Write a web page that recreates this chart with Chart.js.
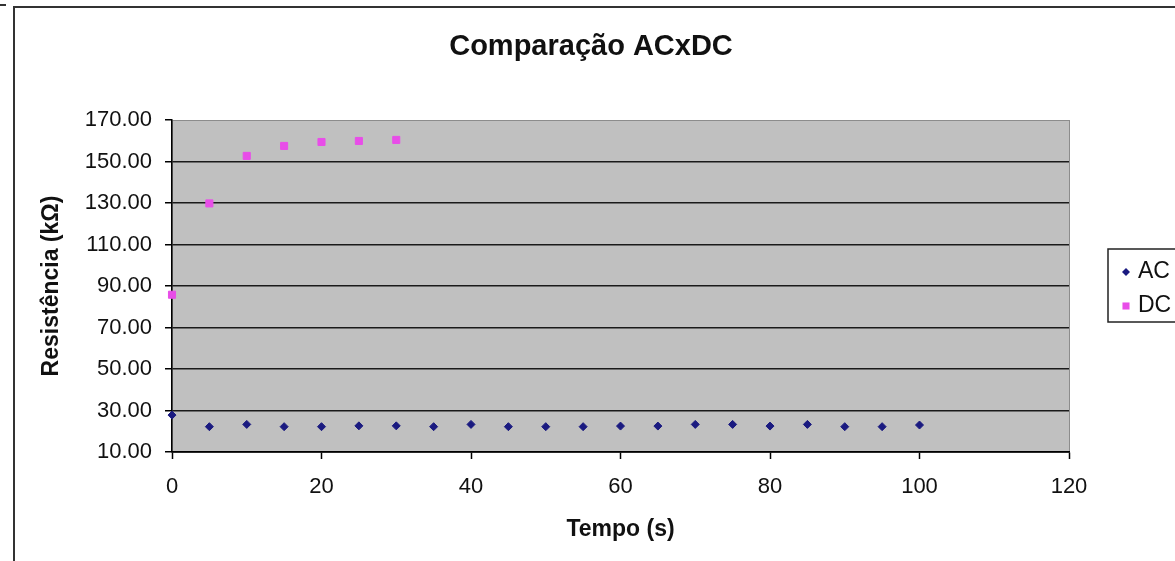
<!DOCTYPE html>
<html>
<head>
<meta charset="utf-8">
<script src="https://cdn.jsdelivr.net/npm/chart.js@4"></script>
<style>
html, body { margin: 0; padding: 0; background: #fff; }
</style>
</head>
<body>
<canvas id="chart" width="1175" height="561"></canvas>
<script>
// valores
const tempoAC = [0, 5, 10, 15, 20, 25, 30, 35, 40, 45, 50, 55, 60, 65, 70, 75, 80, 85, 90, 95, 100];
const resistenciaAC = [27.8, 22.2, 23.3, 22.2, 22.2, 22.6, 22.6, 22.2, 23.3, 22.2, 22.2, 22.2, 22.5, 22.5, 23.3, 23.3, 22.5, 23.3, 22.2, 22.2, 23.0];
const tempoDC = [0, 5, 10, 15, 20, 25, 30];
const resistenciaDC = [85.8, 129.8, 152.7, 157.5, 159.4, 159.9, 160.4];
const xTicks = [0, 20, 40, 60, 80, 100, 120];
const yTicks = [10, 30, 50, 70, 90, 110, 130, 150, 170];

const fontName = '"Liberation Sans", Arial, sans-serif';

function toPoints(xs, ys) {
    return xs.map((x, i) => ({ x: x, y: ys[i] }));
}

const framePlugin = {
    id: 'frame',
    beforeDraw(chart) {
        const { ctx, chartArea: a } = chart;
        ctx.save();
        ctx.fillStyle = '#fff';
        ctx.fillRect(0, 0, chart.width, chart.height);
        ctx.fillStyle = '#c0c0c0';
        ctx.fillRect(a.left, a.top, a.right - a.left, a.bottom - a.top);
        ctx.strokeStyle = '#8c8c8c';
        ctx.lineWidth = 1;
        ctx.strokeRect(a.left + 0.5, a.top + 0.5, a.right - a.left, a.bottom - a.top);
        // moldura externa
        ctx.strokeStyle = '#333';
        ctx.lineWidth = 2;
        ctx.strokeRect(14, 7, 1300, 700);
        ctx.beginPath();
        ctx.moveTo(0, 5);
        ctx.lineTo(6, 5);
        ctx.stroke();
        ctx.restore();
    },
    afterDraw(chart) {
        const ctx = chart.ctx;
        ctx.save();
        ctx.fillStyle = '#111';
        ctx.textAlign = 'center';
        ctx.textBaseline = 'middle';
        ctx.font = 'bold 29px ' + fontName;
        ctx.fillText('Comparação ACxDC', 591, 47);

        // legenda
        ctx.strokeStyle = '#222';
        ctx.lineWidth = 1.5;
        ctx.strokeRect(1108, 249, 100, 73);
        ctx.textAlign = 'left';
        ctx.font = '23px ' + fontName;
        const rows = [272, 306];
        chart.data.datasets.forEach((ds, i) => {
            ctx.fillStyle = ds.backgroundColor;
            ctx.strokeStyle = ds.borderColor;
            ctx.lineWidth = 1;
            Chart.helpers.drawPoint(ctx, { pointStyle: ds.pointStyle, radius: ds.pointRadius, rotation: 0 }, 1126, rows[i]);
            ctx.fillStyle = '#111';
            ctx.fillText(ds.label, 1138, rows[i]);
        });
        ctx.restore();
    }
};

new Chart(document.getElementById('chart'), {
    type: 'scatter',
    data: {
        datasets: [{
            label: 'AC',
            data: toPoints(tempoAC, resistenciaAC),
            pointStyle: 'rectRot',
            pointRadius: 4,
            backgroundColor: '#1a1a80',
            borderColor: '#1a1a80',
            borderWidth: 1,
            clip: false
        }, {
            label: 'DC',
            data: toPoints(tempoDC, resistenciaDC),
            pointStyle: 'rect',
            pointRadius: 5,
            backgroundColor: '#e84de8',
            borderColor: '#e84de8',
            borderWidth: 1,
            clip: false
        }]
    },
    options: {
        responsive: false,
        animation: false,
        devicePixelRatio: 1,
        layout: { padding: { left: 34, right: 106, top: 120, bottom: 14 } },
        plugins: {
            legend: { display: false },
            title: { display: false },
            tooltip: { enabled: false }
        },
        scales: {
            x: {
                type: 'linear',
                min: 0,
                max: 120,
                afterBuildTicks: scale => { scale.ticks = xTicks.map(v => ({ value: v })); },
                afterFit: scale => { scale.height = 95; },
                ticks: { color: '#111', font: { family: fontName, size: 22 }, padding: 15 },
                grid: { drawOnChartArea: false, drawTicks: true, tickLength: 7, tickColor: '#000', tickWidth: 1.5 },
                border: { color: '#000', width: 1.5 },
                title: {
                    display: true,
                    text: 'Tempo (s)',
                    color: '#111',
                    font: { family: fontName, size: 23, weight: 'bold' },
                    padding: { top: 4, bottom: 4 }
                }
            },
            y: {
                min: 10,
                max: 170,
                afterBuildTicks: scale => { scale.ticks = yTicks.map(v => ({ value: v })); },
                afterFit: scale => { scale.width = 138; },
                ticks: {
                    color: '#111',
                    font: { family: fontName, size: 22 },
                    padding: 13,
                    callback: v => v.toFixed(2)
                },
                grid: {
                    color: c => (c.tick && c.tick.value === 170) ? 'rgba(0,0,0,0)' : '#1a1a1a',
                    lineWidth: 1.5,
                    tickLength: 7,
                    tickColor: '#000',
                    tickWidth: 1.5
                },
                border: { color: '#000', width: 1.5 },
                title: {
                    display: true,
                    text: 'Resistência (kΩ)',
                    color: '#111',
                    font: { family: fontName, size: 23, weight: 'bold' },
                    padding: { top: 4, bottom: 4 }
                }
            }
        }
    },
    plugins: [framePlugin]
});
</script>
</body>
</html>
